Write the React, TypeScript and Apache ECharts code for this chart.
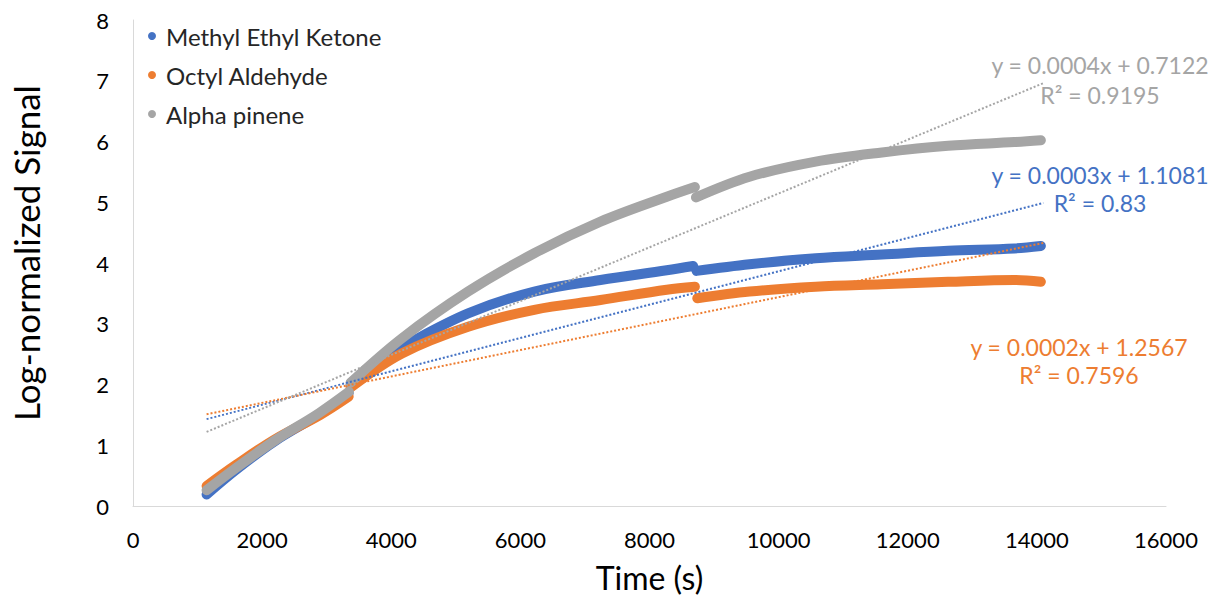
import React, { useEffect, useRef } from "react";
import * as echarts from "echarts";

// ---- Data ----
const seriesNames = ["Methyl Ethyl Ketone", "Octyl Aldehyde", "Alpha pinene"];
const seriesColors = ["#4472C4", "#ED7D31", "#A5A5A5"];

const xTicks = [0, 2000, 4000, 6000, 8000, 10000, 12000, 14000, 16000];
const yTicks = [0, 1, 2, 3, 4, 5, 6, 7, 8];

// Methyl Ethyl Ketone (three runs / segments)
const mekSeg1 = [[1140, 0.19], [1600, 0.6], [2200, 1.07], [2900, 1.52], [3340, 1.86]];
const mekSeg2 = [[3370, 1.99], [3908, 2.46], [4164, 2.62], [5190, 3.17], [6215, 3.53], [7241, 3.72], [8267, 3.88], [8677, 3.95]];
const mekSeg3 = [[8728, 3.87], [9549, 3.98], [10574, 4.08], [11600, 4.14], [12626, 4.2], [13651, 4.24], [14062, 4.28]];

// Octyl Aldehyde
const octSeg1 = [[1140, 0.33], [1600, 0.68], [2200, 1.1], [2900, 1.5], [3340, 1.8]];
const octSeg2 = [[3370, 1.95], [4164, 2.51], [5190, 2.95], [6215, 3.23], [7241, 3.39], [8267, 3.56], [8703, 3.61]];
const octSeg3 = [[8740, 3.42], [9549, 3.53], [10574, 3.61], [11600, 3.65], [12626, 3.69], [13651, 3.72], [14062, 3.69]];

// Alpha pinene
const apSeg1 = [[1140, 0.26], [1600, 0.63], [2215, 1.09], [2882, 1.53], [3344, 1.88]];
const apSeg2 = [[3370, 2.03], [4164, 2.76], [5190, 3.53], [6215, 4.16], [7241, 4.68], [8267, 5.09], [8703, 5.25]];
const apSeg3 = [[8720, 5.08], [9549, 5.42], [10574, 5.67], [11600, 5.82], [12626, 5.93], [13651, 5.99], [14062, 6.02]];

// Linear trendlines (end points)
const mekTrend = [[1140, 1.43], [14100, 4.99]];
const octTrend = [[1140, 1.51], [14100, 4.33]];
const apTrend = [[1140, 1.22], [14100, 6.96]];

// Trendline equations
const mekEq = ["y = 0.0003x + 1.1081", "R² = 0.83"];
const octEq = ["y = 0.0002x + 1.2567", "R² = 0.7596"];
const apEq = ["y = 0.0004x + 0.7122", "R² = 0.9195"];

const FONT = "Lato, 'Noto Sans', sans-serif";

function joinSegments(segs: number[][][]) {
  const out: any[] = [];
  segs.forEach((s, i) => {
    if (i > 0) out.push([s[0][0] - 10, "-"]);
    s.forEach((p) => out.push(p));
  });
  return out;
}

export default function App() {
  const ref = useRef<HTMLDivElement>(null);

  useEffect(() => {
    if (!ref.current) return;
    const chart = echarts.init(ref.current, undefined, { renderer: "svg" });

    const dataSeries = [
      { segs: [mekSeg1, mekSeg2, mekSeg3], i: 0 },
      { segs: [octSeg1, octSeg2, octSeg3], i: 1 },
      { segs: [apSeg1, apSeg2, apSeg3], i: 2 },
    ].map(({ segs, i }) => ({
      name: seriesNames[i],
      type: "line",
      data: joinSegments(segs),
      showSymbol: false,
      symbol: "circle",
      smooth: 0.35,
      connectNulls: false,
      color: seriesColors[i],
      lineStyle: { width: 10, color: seriesColors[i], cap: "round", join: "round" },
      z: 2,
    }));

    const trendSeries = [mekTrend, octTrend, apTrend].map((t, i) => ({
      name: "trend-" + i,
      type: "line",
      data: t,
      showSymbol: false,
      symbol: "none",
      color: seriesColors[i],
      lineStyle: { width: 2, type: [2, 2], color: seriesColors[i] },
      z: 5,
    }));

    const eqText = (lines: string[], cx: number, y1: number, y2: number, color: string) => [
      {
        type: "text",
        x: cx,
        y: y1,
        style: { text: lines[0], fill: color, font: `23px ${FONT}`, textAlign: "center", textVerticalAlign: "middle" },
      },
      {
        type: "text",
        x: cx,
        y: y2,
        style: { text: lines[1], fill: color, font: `23px ${FONT}`, textAlign: "center", textVerticalAlign: "middle" },
      },
    ];

    chart.setOption({
      animation: false,
      backgroundColor: "#ffffff",
      grid: { left: 126, right: 46, top: 20, bottom: 95, containLabel: false },
      legend: {
        data: seriesNames.map((n) => ({ name: n, icon: "circle" })),
        orient: "vertical",
        left: 143,
        top: 19,
        itemWidth: 8,
        itemHeight: 8,
        itemGap: 15,
        selectedMode: false,
        textStyle: { fontFamily: FONT, fontSize: 24, color: "#262626", lineHeight: 24, padding: [0, 0, 0, 5] },
      },
      xAxis: {
        type: "value",
        min: xTicks[0],
        max: xTicks[xTicks.length - 1],
        interval: 2000,
        name: "Time (s)",
        nameLocation: "middle",
        nameGap: 55,
        nameTextStyle: { fontFamily: FONT, fontSize: 32, color: "#000" },
        axisLine: { show: true, lineStyle: { color: "#D9D9D9", width: 1 } },
        axisTick: { show: false },
        splitLine: { show: false },
        axisLabel: { fontFamily: FONT, fontSize: 22, color: "#000", margin: 22, formatter: (v: number) => String(v) },
      },
      yAxis: {
        type: "value",
        min: yTicks[0],
        max: yTicks[yTicks.length - 1],
        interval: 1,
        name: "Log-normalized Signal",
        nameLocation: "middle",
        nameGap: 90,
        nameTextStyle: { fontFamily: FONT, fontSize: 35, color: "#000", padding: [0, 0, 0, 20] },
        axisLine: { show: true, lineStyle: { color: "#D9D9D9", width: 1 } },
        axisTick: { show: false },
        splitLine: { show: false },
        axisLabel: { fontFamily: FONT, fontSize: 22, color: "#000", margin: 24, formatter: (v: number) => String(v) },
      },
      graphic: [
        ...eqText(apEq, 1100, 65, 95, seriesColors[2]),
        ...eqText(mekEq, 1100, 175, 203, seriesColors[0]),
        ...eqText(octEq, 1079, 347, 375, seriesColors[1]),
      ],
      series: [...dataSeries, ...trendSeries],
    });

    return () => chart.dispose();
  }, []);

  return (
    <div
      ref={ref}
      style={{ position: "fixed", left: 0, top: 0, width: 1212, height: 601, background: "#fff" }}
    />
  );
}
